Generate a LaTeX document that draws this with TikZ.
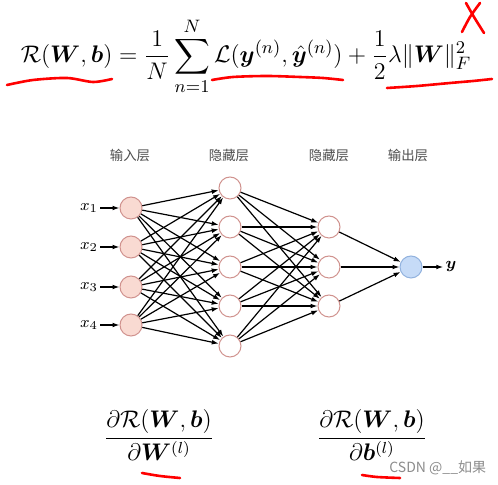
\documentclass[tikz,border=0pt]{standalone}
\usepackage{amsmath,amssymb,bm}
\usepackage{fontspec}
\newfontfamily\cjk{Noto Sans CJK SC}
\usetikzlibrary{arrows.meta,positioning}
\definecolor{inpfill}{HTML}{F9DAD2}
\definecolor{nodeline}{HTML}{D0928E}
\definecolor{outfill}{HTML}{C6DBF7}
\definecolor{outdraw}{HTML}{92B2DE}

\begin{document}
\begin{tikzpicture}[x=0.5pt,y=-0.5pt,
  neuron/.style={circle,draw=nodeline,line width=0.5pt,fill=white,minimum size=11pt,inner sep=0pt},
  inp/.style={neuron,fill=inpfill},
  outp/.style={neuron,draw=outdraw,fill=outfill},
  arr/.style={-{Latex[length=3.5pt,width=2.4pt]},line width=0.6pt},
  layer/.style={font=\cjk\fontsize{6.7}{8}\selectfont,text=black!70},
  lbl/.style={font=\footnotesize,inner sep=1pt},
  eq/.style={anchor=base,inner sep=0pt,font=\fontsize{12}{14}\selectfont},
  redpen/.style={red,line width=1.3pt,line cap=round,line join=round}]
\useasboundingbox (0,0) rectangle (498,485);

% formula
\node[eq,font=\fontsize{12.4}{14}\selectfont](loss) at (246,63){$\displaystyle \mathcal{R}(\boldsymbol{W},\boldsymbol{b})=\frac{1}{N}\sum_{n=1}^{N}\mathcal{L}(\boldsymbol{y}^{(n)},\hat{\boldsymbol{y}}^{(n)})+\frac{1}{2}\lambda\|\boldsymbol{W}\|_F^2$};

% layer titles
\node[layer](tin) at (130,155){输入层};
\node[layer](th1) at (229,155){隐藏层};
\node[layer](th2) at (329,155){隐藏层};
\node[layer](tout) at (408,155){输出层};

% neurons
\foreach \y [count=\k] in {208,247,287,325}
  \node[inp](i\k) at (131,\y){};
\foreach \y [count=\k] in {188,227,267,306,346}
  \node[neuron](h\k) at (230,\y){};
\foreach \y [count=\k] in {227,267,306}
  \node[neuron](g\k) at (329,\y){};
\node[outp](o) at (411,267){};

% inputs and output
\foreach \y [count=\k] in {208,247,287,325}{
  \node[lbl](x\k) at (89,\y){$x_{\k}$};
  \draw[arr](x\k)--(i\k);
}
\node[lbl](yout) at (451,267){$\boldsymbol{y}$};
\draw[arr](o)--(yout);

% connections
\foreach \a in {1,...,4}
  \foreach \b in {1,...,5}
    \draw[arr](i\a)--(h\b);
\foreach \a in {1,...,5}
  \foreach \b in {1,...,3}
    \draw[arr](h\a)--(g\b);
\foreach \a in {1,...,3}
  \draw[arr](g\a)--(o);

% gradients
\node[eq](dw) at (159,444){$\displaystyle \frac{\partial\mathcal{R}(\boldsymbol{W},\boldsymbol{b})}{\partial\boldsymbol{W}^{(l)}}$};
\node[eq](db) at (372,444){$\displaystyle \frac{\partial\mathcal{R}(\boldsymbol{W},\boldsymbol{b})}{\partial\boldsymbol{b}^{(l)}}$};

% watermark
\node[font=\cjk\fontsize{7}{8}\selectfont,text=black!45,anchor=west,inner sep=0pt](mark) at (389,468){CSDN @\_\_如果};

% red pen marks
\draw[redpen] plot[smooth] coordinates {(7,85) (33,80) (67,78) (93,82) (112,79)};
\draw[redpen] plot[smooth] coordinates {(212,80) (233,77) (267,76) (300,77) (323,78) (343,80)};
\draw[redpen] plot[smooth] coordinates {(387,88) (417,86) (450,83) (473,81) (492,79)};
\draw[redpen] plot[smooth] coordinates {(466,3) (474,17) (484,33)};
\draw[redpen] plot[smooth] coordinates {(480,3) (470,17) (462,32)};
\draw[redpen] plot[smooth] coordinates {(142,473) (160,476) (180,478)};
\draw[redpen] plot[smooth] coordinates {(362,475) (377,477) (400,478)};
\end{tikzpicture}
\end{document}
